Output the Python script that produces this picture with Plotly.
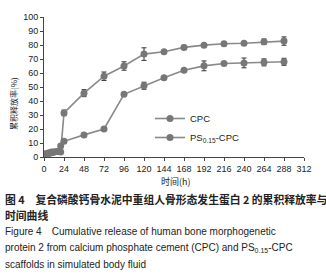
import plotly.graph_objects as go

# Data
t_cpc = [1, 3, 6, 9, 12, 16, 20, 24, 48, 72, 96, 120, 144, 168, 192, 216, 240, 264, 288]
v_cpc = [2, 2.5, 3, 3.5, 3.5, 4, 3.5, 31.5, 45.6, 57.7, 65, 73.5, 75.2, 78.3, 79.9, 80.9, 81.3, 82.3, 82.8]
e_cpc = [0, 0, 0, 0, 0, 0, 0, 2, 2.5, 3, 3, 4.5, 1, 1.5, 1, 1, 1, 2, 3]

t_ps = [1, 3, 6, 9, 12, 16, 20, 24, 48, 72, 96, 120, 144, 168, 192, 216, 240, 264, 288]
v_ps = [1.5, 2, 2.5, 3, 3.5, 4, 7.8, 11.2, 15.8, 20, 44.8, 50.9, 56.6, 62, 65.1, 66.8, 67.2, 67.6, 68]
e_ps = [0, 0, 0, 0, 0, 0, 0, 1, 0.5, 0.5, 1, 2.5, 1, 1, 3.5, 1, 3.5, 2.5, 2.5]

x_ticks = list(range(0, 313, 24))
y_ticks = list(range(0, 101, 10))

W, H = 326, 274
L, R, T, B = 44, 22, 17, 117
ph = H - T - B

def py(pix):
    return (H - B - pix) / ph

line_col = "#8a8a8a"
mk_col = "#777777"
err_col = "#333333"

fig = go.Figure()
fig.add_trace(go.Scatter(
    x=t_cpc, y=v_cpc, name="CPC", mode="lines+markers",
    line=dict(color=line_col, width=1.6),
    marker=dict(color=mk_col, size=7, symbol="circle"),
    error_y=dict(type="data", array=e_cpc, color=err_col, thickness=1, width=2.5),
))
fig.add_trace(go.Scatter(
    x=t_ps, y=v_ps, name="PS<sub>0.15</sub>-CPC", mode="lines+markers",
    line=dict(color=line_col, width=1.6),
    marker=dict(color=mk_col, size=7, symbol="circle"),
    error_y=dict(type="data", array=e_ps, color=err_col, thickness=1, width=2.5),
))

tickfont = dict(family="Liberation Sans, Arial", size=9, color="#222")
fig.update_xaxes(range=[0, 312], tickvals=x_ticks, ticks="outside", ticklen=3,
                 showline=True, linecolor="#444", linewidth=1, showgrid=False,
                 zeroline=False, tickfont=tickfont, tickcolor="#444")
fig.update_yaxes(range=[0, 100], tickvals=y_ticks, ticks="outside", ticklen=3,
                 showline=True, linecolor="#444", linewidth=1, showgrid=False,
                 zeroline=False, tickfont=tickfont, tickcolor="#444")

cjk = "Noto Sans CJK SC"
ann = []
ann.append(dict(text="累积释放率(%)", x=(13 - L) / (W - L - R), y=py(104), xref="paper", yref="paper",
                textangle=-90, showarrow=False, xanchor="center", yanchor="middle",
                font=dict(family=cjk, size=8, color="#222")))
ann.append(dict(text="时间(h)", x=(176 - L) / (W - L - R), y=py(181), xref="paper", yref="paper",
                showarrow=False, xanchor="center", yanchor="middle",
                font=dict(family=cjk, size=9, color="#222")))
lines = [
    ("<b>图 4　复合磷酸钙骨水泥中重组人骨形态发生蛋白 2 的累积释放率与</b>", 199, cjk, 10.8),
    ("<b>时间曲线</b>", 215, cjk, 10.8),
    ("Figure 4　Cumulative release of human bone morphogenetic", 232, "Liberation Sans, Arial", 10),
    ("protein 2 from calcium phosphate cement (CPC) and PS<sub>0.15</sub>-CPC", 248, "Liberation Sans, Arial", 10),
    ("scaffolds in simulated body fluid", 264, "Liberation Sans, Arial", 10),
]
for txt, yp, fam, sz in lines:
    ann.append(dict(text=txt, x=(3 - L) / (W - L - R), y=py(yp), xref="paper", yref="paper",
                    showarrow=False, xanchor="left", yanchor="middle",
                    font=dict(family=fam, size=sz, color="#222")))

fig.update_layout(
    width=W, height=H, margin=dict(l=L, r=R, t=T, b=B),
    paper_bgcolor="white", plot_bgcolor="white",
    showlegend=True,
    legend=dict(x=(150 - L) / (W - L - R), y=py(104), xanchor="left", yanchor="top",
                bgcolor="rgba(0,0,0,0)", font=dict(family="Liberation Sans, Arial", size=9.5, color="#222"),
                itemwidth=30, tracegroupgap=0),
    annotations=ann,
)
fig.write_html("out.html")
